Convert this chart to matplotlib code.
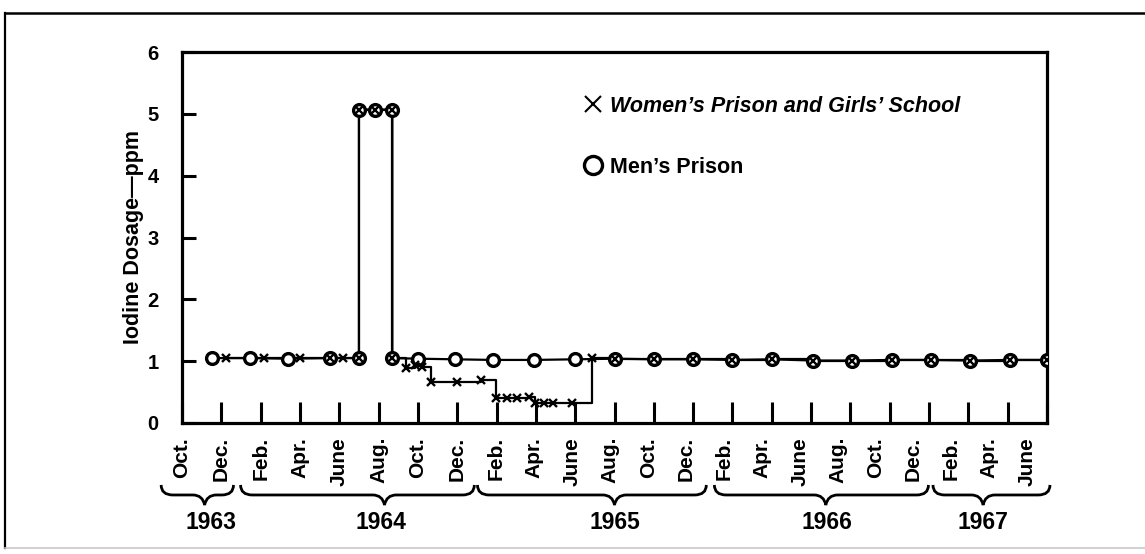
import matplotlib
matplotlib.use("Agg")
import matplotlib.pyplot as plt
from matplotlib.lines import Line2D
from matplotlib.path import Path
from matplotlib.patches import PathPatch
import matplotlib.transforms as mtransforms

plt.rcParams['font.family'] = ['Liberation Sans', 'DejaVu Sans']
plt.rcParams['font.weight'] = 'bold'

# ---------------- data ----------------
# x positions are months counted from October 1963 (= 0)
month_idx = list(range(0, 46, 2))
month_labels = ["Oct.", "Dec.",
                "Feb.", "Apr.", "June", "Aug.", "Oct.", "Dec.",
                "Feb.", "Apr.", "June", "Aug.", "Oct.", "Dec.",
                "Feb.", "Apr.", "June", "Aug.", "Oct.", "Dec.",
                "Feb.", "Apr.", "June"]
years = ["1963", "1964", "1965", "1966", "1967"]
# brace (start, point, end) in months for each year group
year_brace = [(-1.06, 1.15, 2.62), (2.98, 10.3, 14.87), (15.03, 22.0, 26.67),
              (27.08, 32.75, 37.97), (38.2, 40.75, 44.15)]
year_text_x = [1.45, 10.1, 22.0, 32.8, 40.75]

men_month = [1.55, 3.45, 5.4, 7.55, 9.0, 9.0, 9.8, 10.7, 10.7, 12.0, 13.9, 15.8,
             17.9, 20.0, 22.0, 24.0, 26.0, 28.0, 30.0, 32.1, 34.1, 36.1, 38.1,
             40.1, 42.1, 44.0]
men_ppm = [1.05, 1.05, 1.04, 1.05, 1.05, 5.07, 5.07, 5.07, 1.05, 1.04, 1.03, 1.02,
           1.02, 1.03, 1.04, 1.03, 1.03, 1.02, 1.03, 1.01, 1.01, 1.02, 1.02, 1.01,
           1.02, 1.02]

women_month = [2.25, 4.15, 6.0, 7.55, 8.2, 9.0, 9.0, 9.8, 10.7, 10.7, 11.4, 11.85,
               12.2, 12.65, 14.0, 15.2, 15.95, 16.55, 17.05, 17.65, 17.95, 18.4,
               18.85, 19.85, 20.85, 22.0, 24.0, 26.0, 28.0, 30.0, 32.1, 34.1, 36.1,
               38.1, 40.1, 42.1, 44.0]
women_ppm = [1.05, 1.05, 1.05, 1.05, 1.05, 1.05, 5.07, 5.07, 5.07, 1.05, 0.89, 0.93,
             0.90, 0.66, 0.66, 0.70, 0.40, 0.40, 0.40, 0.42, 0.32, 0.32, 0.32, 0.32,
             1.05, 1.04, 1.03, 1.03, 1.02, 1.03, 1.01, 1.01, 1.02, 1.02, 1.01, 1.02,
             1.02]

# ---------------- figure ----------------
W, H = 1145, 554
fig = plt.figure(figsize=(W / 100, H / 100), dpi=100)
ax = fig.add_axes([182 / W, 131 / H, 865 / W, 371 / H])

ax.set_xlim(0.2, 44.0)
ax.set_ylim(0, 6)

# series
ax.plot(women_month, women_ppm, color='black', lw=1.6, drawstyle='steps-post', zorder=2)
ax.plot(men_month, men_ppm, color='black', lw=1.6, marker='o', ms=8.5,
        mfc='white', mec='black', mew=2.4, zorder=3)
ax.plot(women_month, women_ppm, ls='none', marker='x', ms=5.5, mec='black',
        mew=1.7, zorder=4)

# spines and ticks
for s in ax.spines.values():
    s.set_linewidth(2.3)
ax.set_xticks(month_idx)
ax.set_xticklabels([])
ax.tick_params(axis='x', direction='in', length=15, width=2.2, labelbottom=False)
ax.set_yticks(range(0, 7))
ax.tick_params(axis='y', direction='in', length=10, width=2.2, pad=17,
               labelsize=14.5)
for t in ax.get_yticklabels():
    t.set_fontweight('bold')

ax.text(-0.0566, 0.5, "Iodine Dosage—ppm", transform=ax.transAxes, rotation=90,
        ha='center', va='center', fontsize=15.5, fontweight='bold')

# month labels (slightly compressed toward the right as in the original)
blend = mtransforms.blended_transform_factory(ax.transData, ax.transAxes)
for idx, lab in zip(month_idx, month_labels):
    xpos = idx - 0.036 * max(idx - 16, 0)
    ax.text(xpos, -0.038, lab, transform=blend, rotation=90, ha='center',
            va='top', fontsize=15, fontweight='bold', clip_on=False)

# year braces
top, mid, bot = -0.167, -0.194, -0.221
d = 0.6
for (s, p, e), yr, tx in zip(year_brace, years, year_text_x):
    verts = [(s, top), (s, mid), (s + d, mid), (p - d, mid), (p - 0.1, mid), (p, bot),
             (p + 0.1, mid), (p + d, mid), (e - d, mid), (e, mid), (e, top)]
    codes = [Path.MOVETO, Path.CURVE3, Path.CURVE3, Path.LINETO, Path.CURVE3,
             Path.CURVE3, Path.CURVE3, Path.CURVE3, Path.LINETO, Path.CURVE3,
             Path.CURVE3]
    patch = PathPatch(Path(verts, codes), transform=blend, fill=False,
                      lw=2.0, ec='black', clip_on=False)
    ax.add_patch(patch)
    ax.text(tx, -0.267, yr, transform=blend, ha='center', va='center',
            fontsize=16.5, fontweight='bold', clip_on=False)

# legend
h_w = Line2D([], [], ls='none', marker='x', ms=11, mew=1.5, mec='black')
h_m = Line2D([], [], ls='none', marker='o', ms=13, mew=2.4, mec='black', mfc='white')
leg = ax.legend([h_w, h_m], ["Women’s Prison and Girls’ School", "Men’s Prison"],
                loc='upper left', bbox_to_anchor=(0.4627, 0.8825), frameon=False,
                borderpad=0, borderaxespad=0, handlelength=1.0, handletextpad=0.29,
                labelspacing=1.87, prop=dict(size=15.5, weight='bold'))
leg.get_texts()[0].set_style('italic')

# outer frame of the original figure
fig.add_artist(Line2D([4.5 / W, 4.5 / W], [1 - 13 / H, 1 - 548 / H], color='black',
                      lw=1.6, transform=fig.transFigure))
fig.add_artist(Line2D([4.5 / W, 1.0], [1 - 13 / H, 1 - 13 / H], color='black',
                      lw=1.8, transform=fig.transFigure))
fig.add_artist(Line2D([4.5 / W, 1.0], [1 - 548 / H, 1 - 548 / H], color='#c8c8c8',
                      lw=1.2, transform=fig.transFigure))

fig.savefig("out.png", dpi=100)
